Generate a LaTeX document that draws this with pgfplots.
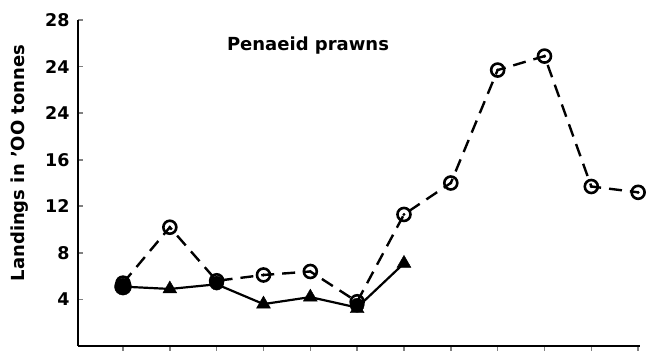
\documentclass[border=0pt]{standalone}
\usepackage{pgfplots}
\pgfplotsset{compat=1.18}
\usepackage{fontspec}
\setmainfont{DejaVu Sans}
\begin{document}
\begin{tikzpicture}
\useasboundingbox (-78pt,-12pt) rectangle (580pt,346pt);
\begin{axis}[
  scale only axis, width=562pt, height=326pt,
  xmin=0.039, xmax=12.04, ymin=0, ymax=28,
  axis x line*=bottom, axis y line*=left,
  axis line style={line width=2.2pt},
  xtick={1,...,12}, xticklabels={},
  ytick={4,8,12,16,20,24,28},
  yticklabels={4,8,12,16,24,24,28},
  tick align=inside,
  major tick length=5pt,
  xtick style={line width=1.6pt, yshift=-5pt},
  ytick style={line width=1.6pt},
  yticklabel style={font=\bfseries\fontsize{17.5}{17.5}\selectfont, xshift=-5pt},
  clip=false,
]
\addplot[black, line width=2.4pt, dash pattern=on 13pt off 8pt, mark=o,
  mark size=6.5pt, mark options={solid, line width=2.6pt, fill=white}]
  coordinates {(1,5.4) (2,10.2) (3,5.6) (4,6.1) (5,6.4) (6,3.8) (7,11.3)
    (8,14.0) (9,23.7) (10,24.9) (11,13.7) (12,13.2)};
\addplot[black, only marks, mark=*, mark size=1.3pt]
  coordinates {(2,10.2) (4,6.1) (5,6.4) (7,11.3)
    (8,14.0) (9,23.7) (10,24.9) (11,13.7) (12,13.2)};
\addplot[black, line width=2.2pt]
  coordinates {(1,5.1) (2,4.9) (3,5.3) (4,3.6) (5,4.2) (6,3.3) (7,7.1)};
\addplot[black, only marks, mark=*, mark size=8.5pt]
  coordinates {(1,5.1)};
\addplot[black, only marks, mark=*, mark size=7pt]
  coordinates {(3,5.4) (6,3.5)};
\addplot[black, only marks, mark=triangle*, mark size=8pt]
  coordinates {(2,4.9) (4,3.6) (5,4.2) (6,3.2) (7,7.1)};
\end{axis}
\node[rotate=90, font=\bfseries\fontsize{18}{18}\selectfont] at (-58pt,183pt) {Landings in 'OO tonnes};
\node[font=\bfseries\fontsize{18}{18}\selectfont] at (230pt,300pt) {Penaeid prawns};
\end{tikzpicture}
\end{document}
